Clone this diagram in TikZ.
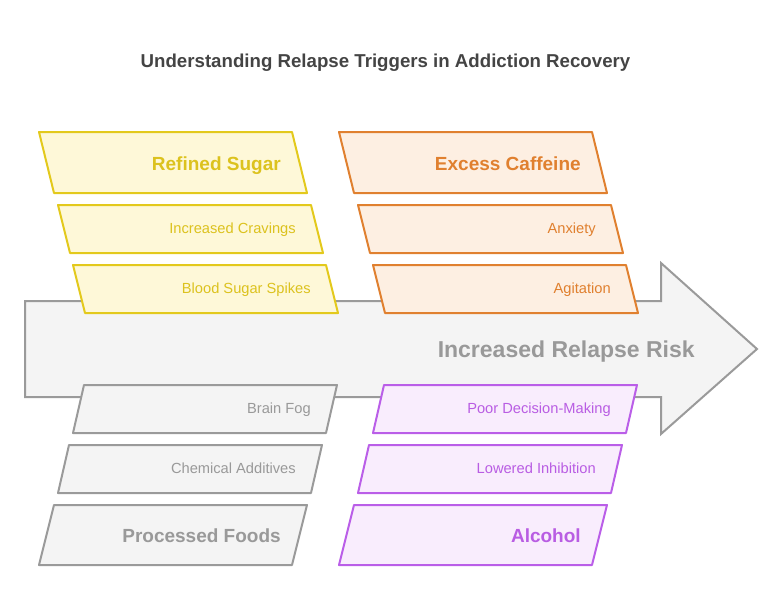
\documentclass[tikz,border=0pt]{standalone}
\usepackage{fontspec}
\setmainfont{Liberation Sans}
\definecolor{ystroke}{HTML}{E3C91C}
\definecolor{yfill}{HTML}{FEF8D8}
\definecolor{ytext}{HTML}{DCC21E}
\definecolor{ostroke}{HTML}{E0802F}
\definecolor{ofill}{HTML}{FDEFE2}
\definecolor{otext}{HTML}{E0802F}
\definecolor{pstroke}{HTML}{BA5EE8}
\definecolor{pfill}{HTML}{F9EDFD}
\definecolor{ptext}{HTML}{B95DE3}
\definecolor{gstroke}{HTML}{9A9A9A}
\definecolor{gfill}{HTML}{F4F4F4}
\definecolor{gtext}{HTML}{999999}
\definecolor{titlec}{HTML}{444444}
\newcommand\pgm[6]{%
  \draw[#1] (#3,#4) coordinate (#2-tl) -- (#3+253,#4) coordinate (#2-tr)
    -- (#5+253,#6) coordinate (#2-br) -- (#5,#6) coordinate (#2-bl) -- cycle;}
\begin{document}
\begin{tikzpicture}[x=0.75pt,y=-0.75pt,
  boxbase/.style={line width=1.5pt,line join=round},
  ybox/.style={boxbase,draw=ystroke,fill=yfill},
  obox/.style={boxbase,draw=ostroke,fill=ofill},
  pbox/.style={boxbase,draw=pstroke,fill=pfill},
  gbox/.style={boxbase,draw=gstroke,fill=gfill},
  big/.style={anchor=base east,inner sep=0pt,font=\fontsize{14.25}{17}\selectfont\bfseries},
  small/.style={anchor=base east,inner sep=0pt,font=\fontsize{11}{13}\selectfont},
]
\useasboundingbox (0,0) rectangle (782,614);
\node[font=\fontsize{14}{16}\selectfont\bfseries,text=titlec,anchor=base] (title) at (385.5,67.5) {Understanding Relapse Triggers in Addiction Recovery};
% arrow
\draw[line width=1.5pt,line join=miter,draw=gstroke,fill=gfill]
  (25,301) coordinate (a1) -- (661,301) coordinate (a2) -- (661,263) coordinate (a3)
  -- (757,349) coordinate (tip) -- (661,434) coordinate (a4) -- (661,397) coordinate (a5)
  -- (25,397) coordinate (a6) -- cycle;
\node[anchor=base east,inner sep=0pt,font=\fontsize{17.25}{20}\selectfont\bfseries,text=gtext] (risk) at (695,357) {Increased Relapse Risk};
% left top column
\pgm{ybox}{rs}{39}{132}{54}{193}
\pgm{ybox}{ic}{58}{205}{70}{253}
\pgm{ybox}{bs}{73}{265}{85}{313}
\node[big,text=ytext] (rst) at (281,170) {Refined Sugar};
\node[small,text=ytext] (ict) at (296,233.5) {Increased Cravings};
\node[small,text=ytext] (bst) at (311,293.5) {Blood Sugar Spikes};
% right top column
\pgm{obox}{ec}{339}{132}{354}{193}
\pgm{obox}{ax}{358}{205}{370}{253}
\pgm{obox}{ag}{373}{265}{385}{313}
\node[big,text=otext] (ect) at (581,170) {Excess Caffeine};
\node[small,text=otext] (axt) at (596,233.5) {Anxiety};
\node[small,text=otext] (agt) at (611,293.5) {Agitation};
% left bottom column
\pgm{gbox}{bf}{84}{385}{73}{433}
\pgm{gbox}{ca}{69}{445}{58}{493}
\pgm{gbox}{pf}{54}{505}{39}{565}
\node[small,text=gtext] (bft) at (311,413.5) {Brain Fog};
\node[small,text=gtext] (cat) at (296,473.5) {Chemical Additives};
\node[big,text=gtext] (pft) at (281,542) {Processed Foods};
% right bottom column
\pgm{pbox}{pd}{384}{385}{373}{433}
\pgm{pbox}{li}{369}{445}{358}{493}
\pgm{pbox}{al}{354}{505}{339}{565}
\node[small,text=ptext] (pdt) at (611,413.5) {Poor Decision-Making};
\node[small,text=ptext] (lit) at (596,473.5) {Lowered Inhibition};
\node[big,text=ptext] (alt) at (581,542) {Alcohol};
\end{tikzpicture}
\end{document}
